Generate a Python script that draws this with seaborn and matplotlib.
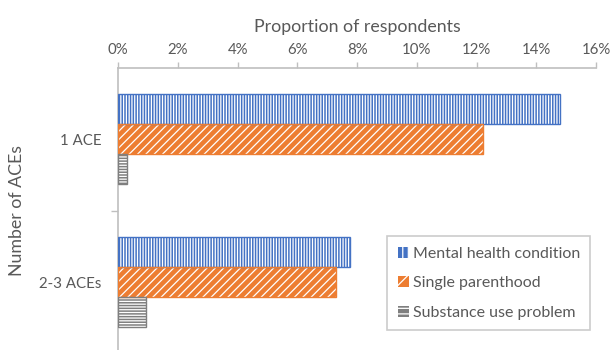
import matplotlib
matplotlib.use("Agg")
import matplotlib.pyplot as plt
from matplotlib.patches import Rectangle
from matplotlib.ticker import PercentFormatter, FixedLocator
import seaborn as sns
import pandas as pd

groups = ["1 ACE", "2-3 ACEs"]
series = ["Mental health condition", "Single parenthood", "Substance use problem"]
mental_health = [14.8, 7.75]
single_parent = [12.2, 7.3]
substance_use = [0.3, 0.95]

colors = ["#4472C4", "#ED7D31", "#7F7F7F"]
hatches = ["|" * 6, "/" * 4, "-" * 6]

rows = []
for s, vals in zip(series, [mental_health, single_parent, substance_use]):
    for g, v in zip(groups, vals):
        rows.append({"group": g, "series": s, "value": v})
df = pd.DataFrame(rows)

sns.set_theme(style="white")
plt.rcParams["font.family"] = ["Lato", "DejaVu Sans"]
plt.rcParams["hatch.linewidth"] = 0.9
text_color = "#595959"
axis_color = "#BFBFBF"

fig = plt.figure(figsize=(6.12, 3.5), dpi=100)
ax = fig.add_axes([0.193, -0.011, 0.781, 0.817])

sns.barplot(data=df, x="value", y="group", hue="series", hue_order=series,
            order=groups, orient="h", palette=colors, width=0.63,
            ax=ax, legend=False)

# Colored bars with white hatching and a colored outline
n = len(groups)
for i, patch in enumerate(ax.patches[: n * len(series)]):
    k = i // n
    patch.set_facecolor(colors[k])
    patch.set_edgecolor("white")
    patch.set_hatch(hatches[k])
    patch.set_linewidth(0)
    outline = Rectangle(patch.get_xy(), patch.get_width(), patch.get_height(),
                        fill=False, edgecolor=colors[k], linewidth=1.0, zorder=3)
    ax.add_patch(outline)

ax.set_xlim(0, 16)
ax.set_ylim(1.5, -0.5)
ax.xaxis.set_major_locator(FixedLocator(list(range(0, 17, 2))))
ax.xaxis.set_major_formatter(PercentFormatter(decimals=0))
ax.xaxis.tick_top()
ax.xaxis.set_label_position("top")
ax.set_xlabel("Proportion of respondents", fontsize=12.8, color=text_color, labelpad=8)
ax.set_ylabel("Number of ACEs", fontsize=12.8, color=text_color, labelpad=10)

ax.tick_params(axis="x", which="major", top=True, bottom=False, direction="out",
               length=4, width=1, color=axis_color, labelsize=10.8,
               labelcolor=text_color, pad=4)
ax.tick_params(axis="y", which="major", left=False, length=0, labelsize=10.8,
               labelcolor=text_color, pad=12)
ax.yaxis.set_minor_locator(FixedLocator([0.5]))
ax.tick_params(axis="y", which="minor", left=True, direction="out", length=5,
               width=1, color=axis_color)

for side in ["right", "bottom"]:
    ax.spines[side].set_visible(False)
for side in ["top", "left"]:
    ax.spines[side].set_color(axis_color)
    ax.spines[side].set_linewidth(1.2)

handles = [Rectangle((0, 0), 1, 1, facecolor=c, edgecolor="white", hatch=h, linewidth=0)
           for c, h in zip(colors, ["|||", "//", "---"])]
leg = ax.legend(handles, series, loc="lower right", bbox_to_anchor=(0.805, 0.055, 0.2, 0.4),
                frameon=True, fancybox=False, fontsize=11.5, handlelength=0.7,
                handleheight=0.7, handletextpad=0.25, labelspacing=0.95,
                borderpad=0.65, labelcolor=text_color)
leg.get_frame().set_edgecolor(axis_color)
leg.get_frame().set_linewidth(1.2)

fig.savefig("out.png", dpi=100)
